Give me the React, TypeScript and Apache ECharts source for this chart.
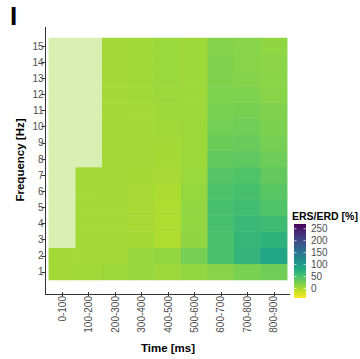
import React, { useEffect, useRef } from "react";
import * as echarts from "echarts";

// Time bins (x) and frequency bins (y)
const timeBins = [
  "0-100", "100-200", "200-300", "300-400", "400-500",
  "500-600", "600-700", "700-800", "800-900",
];
const freqs = ["1", "2", "3", "4", "5", "6", "7", "8", "9", "10", "11", "12", "13", "14", "15"];

// ERS/ERD [%] per time bin, frequencies 1..15 Hz; null = not significant
const ersErd: (number | null)[][] = [
  [3, 3, null, null, null, null, null, null, null, null, null, null, null, null, null],
  [4, 3, 3, 3, 3, 3, 3, null, null, null, null, null, null, null, null],
  [6, 3, 3, 3, 3, 3, 3, 3, 3, 3, 3, 3, 3, 3, 3],
  [8, 8, 2, 1, 1, 1, 2, 3, 3, 3, 3, 4, 4, 4, 4],
  [6, 11, -2, -2, -2, -1, 1, 2, 3, 4, 5, 6, 7, 7, 7],
  [11, 24, 12, 11, 11, 9, 7, 6, 6, 6, 5, 5, 5, 5, 5],
  [16, 50, 50, 52, 52, 47, 42, 36, 30, 26, 22, 20, 19, 19, 18],
  [22, 68, 66, 62, 56, 51, 46, 37, 32, 28, 23, 20, 17, 16, 16],
  [28, 88, 72, 58, 46, 41, 35, 29, 24, 21, 19, 16, 15, 14, 12],
];

// Colour scale
const scaleMin = -40;
const scaleMax = 270;
const legendTicks = [0, 50, 100, 150, 200, 250];
const viridisLowToHigh = [
  "#fde725", "#bddf26", "#7ad151", "#44bf70", "#22a884", "#21918c",
  "#2a788e", "#355f8d", "#414487", "#482475", "#440154",
];
const maskedColor = "#d9efb2";

const FONT = "'Liberation Sans', Arial, Helvetica, sans-serif";

export default function App() {
  const ref = useRef<HTMLDivElement>(null);

  useEffect(() => {
    if (!ref.current) return;
    const chart = echarts.init(ref.current, undefined, { renderer: "svg" });

    const sigData: [number, number, number][] = [];
    const maskData: [number, number, number][] = [];
    ersErd.forEach((col, xi) => {
      col.forEach((v, yi) => {
        if (v === null) maskData.push([xi, yi, 0]);
        else sigData.push([xi, yi, v]);
      });
    });

    // colour bar geometry
    const barLeft = 294;
    const barTop = 224;
    const barW = 12;
    const barH = 74;
    const yOf = (v: number) => barTop + ((scaleMax - v) / (scaleMax - scaleMin)) * barH;

    const gradStops = viridisLowToHigh
      .slice()
      .reverse()
      .map((c, i, arr) => ({ offset: i / (arr.length - 1), color: c }));

    const legendGraphics: any[] = [
      {
        type: "rect",
        shape: { x: barLeft, y: barTop, width: barW, height: barH },
        style: {
          fill: new echarts.graphic.LinearGradient(0, 0, 0, 1, gradStops),
        },
      },
      {
        type: "text",
        x: 292,
        y: 216,
        style: {
          text: "ERS/ERD [%]",
          font: `bold 10.5px ${FONT}`,
          fill: "#000",
          verticalAlign: "middle",
          align: "left",
        },
      },
    ];
    legendTicks.forEach((t) => {
      const y = yOf(t);
      legendGraphics.push(
        { type: "line", shape: { x1: barLeft, y1: y, x2: barLeft + 2.5, y2: y }, style: { stroke: "rgba(255,255,255,0.8)", lineWidth: 0.8 } },
        { type: "line", shape: { x1: barLeft + barW - 2.5, y1: y, x2: barLeft + barW, y2: y }, style: { stroke: "rgba(255,255,255,0.8)", lineWidth: 0.8 } },
        {
          type: "text",
          x: barLeft + barW + 5,
          y,
          style: { text: String(t), font: `10px ${FONT}`, fill: "#4d4d4d", verticalAlign: "middle", align: "left" },
        }
      );
    });

    chart.setOption({
      animation: false,
      grid: { left: 48.8, right: 72.8, top: 38, bottom: 77, containLabel: false },
      xAxis: {
        type: "category",
        data: timeBins,
        offset: 12,
        axisLine: { show: false },
        axisTick: { show: true, length: 4, alignWithLabel: true, lineStyle: { color: "#333" } },
        axisLabel: { rotate: 90, fontSize: 10, fontFamily: FONT, color: "#4d4d4d", margin: 4, interval: 0 },
        splitLine: { show: false },
        name: "Time [ms]",
        nameLocation: "middle",
        nameGap: 50,
        nameTextStyle: { fontSize: 11.5, fontWeight: "bold", fontFamily: FONT, color: "#000" },
      },
      yAxis: {
        type: "category",
        data: freqs,
        offset: 3.3,
        axisLine: { show: false },
        axisTick: { show: true, length: 4, alignWithLabel: true, lineStyle: { color: "#333" } },
        axisLabel: { fontSize: 10, fontFamily: FONT, color: "#4d4d4d", margin: 2, interval: 0 },
        splitLine: { show: false },
      },
      visualMap: [
        {
          show: false,
          type: "continuous",
          min: scaleMin,
          max: scaleMax,
          seriesIndex: 0,
          inRange: { color: viridisLowToHigh },
        },
        {
          show: false,
          type: "continuous",
          min: -1,
          max: 1,
          seriesIndex: 1,
          inRange: { color: [maskedColor, maskedColor] },
        },
      ],
      series: [
        {
          type: "heatmap",
          data: sigData,
          itemStyle: { borderWidth: 0 },
          emphasis: { disabled: true },
        },
        {
          type: "heatmap",
          data: maskData,
          itemStyle: { borderWidth: 0 },
          emphasis: { disabled: true },
        },
      ],
      graphic: [
        {
          type: "text",
          left: 10,
          top: 3,
          style: { text: "I", font: `bold 26px ${FONT}`, fill: "#000" },
        },
        {
          type: "text",
          x: 19.5,
          y: 160,
          rotation: Math.PI / 2,
          style: {
            text: "Frequency [Hz]",
            font: `bold 11.5px ${FONT}`,
            fill: "#000",
            align: "center",
            verticalAlign: "middle",
          },
        },
        // axis lines
        { type: "line", shape: { x1: 45.5, y1: 27, x2: 45.5, y2: 294.5 }, style: { stroke: "#333", lineWidth: 1 } },
        { type: "line", shape: { x1: 45, y1: 294.5, x2: 290, y2: 294.5 }, style: { stroke: "#333", lineWidth: 1 } },
        ...legendGraphics,
      ],
    });

    return () => chart.dispose();
  }, []);

  return (
    <div
      ref={ref}
      style={{ position: "fixed", left: 0, top: 0, width: 360, height: 359, background: "#fff" }}
    />
  );
}
